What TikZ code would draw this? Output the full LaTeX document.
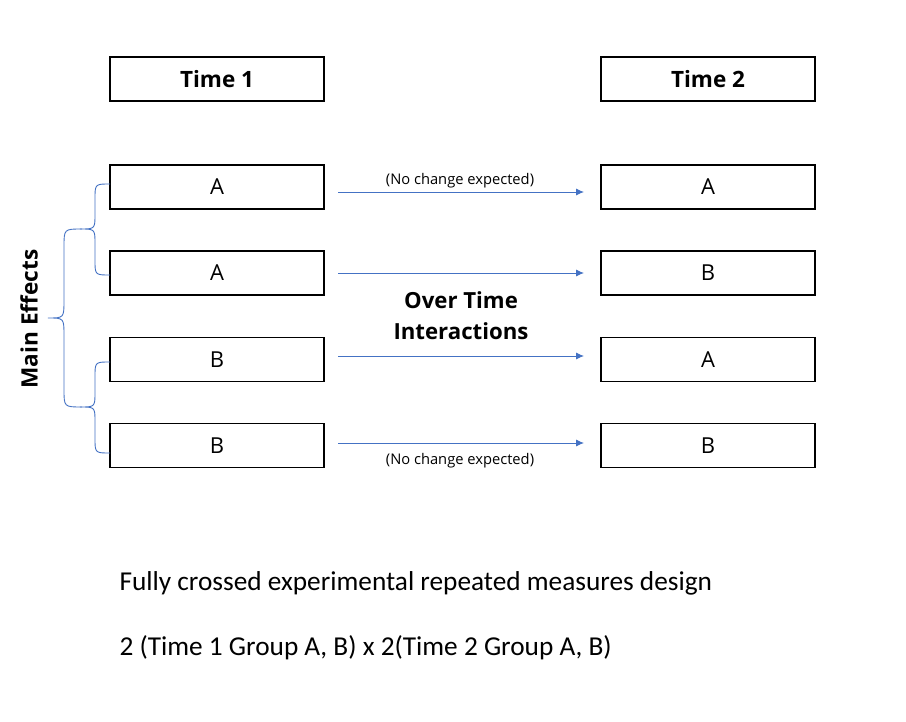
\documentclass[tikz,border=0pt]{standalone}
\usepackage{fontspec}
\usetikzlibrary{arrows.meta}
\setmainfont{Carlito}
\newfontfamily\segfont{Open Sans}
\begin{document}
\begin{tikzpicture}[x=1pt,y=-1pt,
  box/.style={draw=black,line width=1.6pt,minimum width=214pt,minimum height=44pt,inner sep=0pt,font=\segfont\fontsize{22}{24}\selectfont},
  hdr/.style={box,font=\segfont\fontsize{22.5}{24}\selectfont\bfseries},
  arr/.style={draw={rgb,255:red,68;green,114;blue,196},line width=0.9pt,-{Latex[length=8pt,width=7pt]}},
  brace/.style={draw={rgb,255:red,68;green,114;blue,196},line width=0.9pt},
  small/.style={font=\segfont\fontsize{14.7}{16}\selectfont},
  big/.style={font=\segfont\fontsize{22.2}{26}\selectfont\bfseries,align=center},
  note/.style={font=\fontsize{27.3}{30}\selectfont,anchor=west}]
\useasboundingbox (0,0) rectangle (906,722);
\fill[white] (0,0) rectangle (906,722);
\node[hdr] (t1) at (217,79) {Time 1};
\node[hdr] (t2) at (708,79) {Time 2};
\node[box] (l1) at (217,187) {A};
\node[box] (l2) at (217,273) {A};
\node[box] (l3) at (217,359.5) {B};
\node[box] (l4) at (217,445.5) {B};
\node[box] (r1) at (708,187) {A};
\node[box] (r2) at (708,273) {B};
\node[box] (r3) at (708,359.5) {A};
\node[box] (r4) at (708,445.5) {B};
\coordinate (a1s) at (338,192); \coordinate (a1e) at (584,192);
\coordinate (a2s) at (338,273); \coordinate (a2e) at (584,273);
\coordinate (a3s) at (338,356); \coordinate (a3e) at (584,356);
\coordinate (a4s) at (338,443); \coordinate (a4e) at (584,443);
\draw[arr] (a1s) -- (a1e);
\draw[arr] (a2s) -- (a2e);
\draw[arr] (a3s) -- (a3e);
\draw[arr] (a4s) -- (a4e);
\node[small] (n1) at (460,181) {(No change expected)};
\node[small] (n2) at (460,461) {(No change expected)};
\node[big] (oti) at (461,315.5) {Over Time\\[5pt]Interactions};
\node[font=\segfont\fontsize{22.6}{24}\selectfont\bfseries,rotate=90] (me) at (29,319) {Main Effects};
% small braces
\draw[brace] (110,184) .. controls (95,184) .. (95,199) -- (95,214) .. controls (95,229) .. (80,229)
  .. controls (95,229) .. (95,244) -- (95,260) .. controls (95,275) .. (110,275);
\draw[brace] (110,362) .. controls (95,362) .. (95,377) -- (95,392) .. controls (95,407) .. (80,407)
  .. controls (95,407) .. (95,422) -- (95,438) .. controls (95,453) .. (110,453);
% big brace
\draw[brace] (82,229) .. controls (64,229) .. (64,247) -- (64,300) .. controls (64,318) .. (48,318)
  .. controls (64,318) .. (64,336) -- (64,389) .. controls (64,407) .. (82,407);
\node[note] (f1) at (116,583) {Fully crossed experimental repeated measures design};
\node[note] (f2) at (116,648) {2 (Time 1 Group A, B) x 2(Time 2 Group A, B)};
\end{tikzpicture}
\end{document}
